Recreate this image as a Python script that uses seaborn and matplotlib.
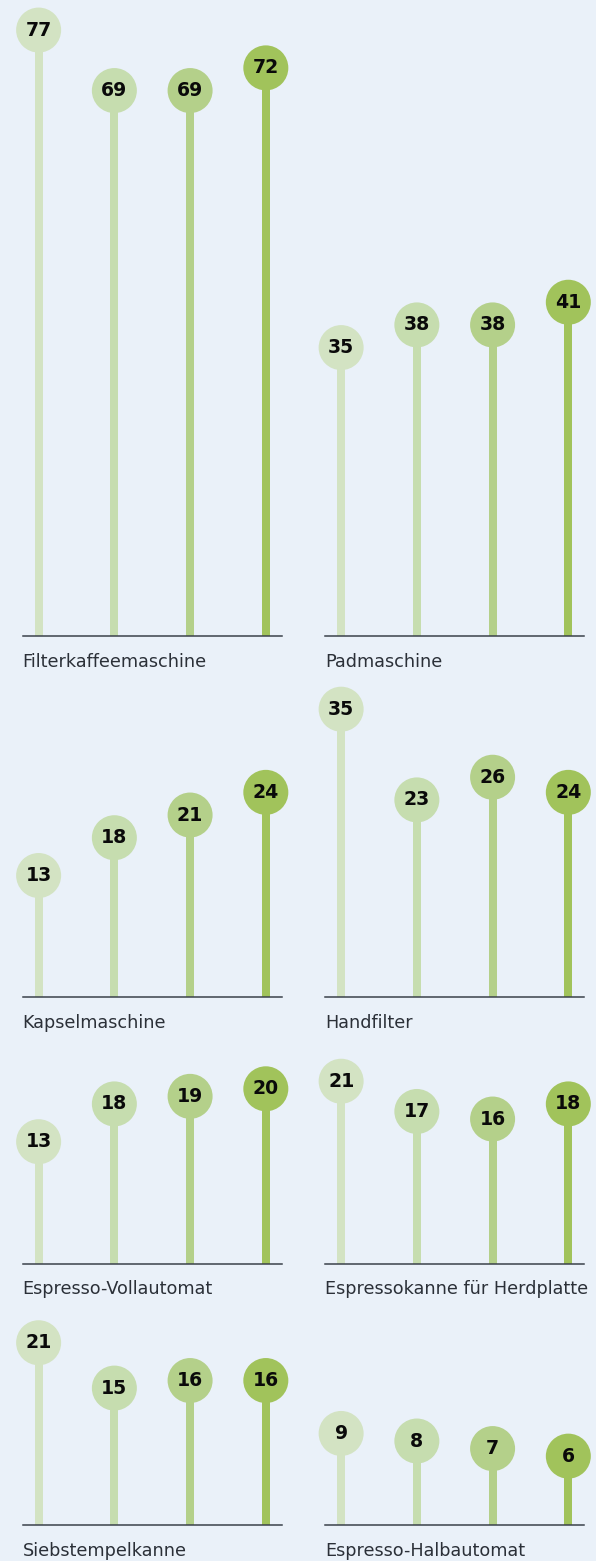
import seaborn as sns
import matplotlib.pyplot as plt
import pandas as pd

# appliance categories, one small panel each
categories = ["Filterkaffeemaschine", "Padmaschine",
              "Kapselmaschine", "Handfilter",
              "Espresso-Vollautomat", "Espressokanne für Herdplatte",
              "Siebstempelkanne", "Espresso-Halbautomat"]

# four waves per panel (oldest -> newest), shares in %
filterkaffee = [77, 69, 69, 72]
padmaschine = [35, 38, 38, 41]
kapsel = [13, 18, 21, 24]
handfilter = [35, 23, 26, 24]
vollautomat = [13, 18, 19, 20]
espressokanne = [21, 17, 16, 18]
siebstempel = [21, 15, 16, 16]
halbautomat = [9, 8, 7, 6]
values = [filterkaffee, padmaschine, kapsel, handfilter,
          vollautomat, espressokanne, siebstempel, halbautomat]
waves = ["w1", "w2", "w3", "w4"]

colors = ["#d3e3c3", "#c6ddaf", "#b4d08a", "#a1c35b"]
bg = "#eaf1f9"

W, H, DPI = 596, 1561, 100
ppu = 7.56                    # pixels per percentage point
radius_px = 23.5              # circle sits on top of the stem
col_x = [22.5, 325]
col_w = 259
row_base = [635.7, 997.3, 1263.5, 1525]
row_top = [0, 680, 1045, 1305]

sns.set_theme(style="white")
plt.rcParams["font.family"] = ["DejaVu Sans"]

fig = plt.figure(figsize=(W / DPI, H / DPI), dpi=DPI, facecolor=bg)
pal = dict(zip(waves, colors))

for i, (cat, vals) in enumerate(zip(categories, values)):
    r, c = divmod(i, 2)
    h_px = row_base[r] - row_top[r]
    ax = fig.add_axes([col_x[c] / W, 1 - row_base[r] / H, col_w / W, h_px / H])
    ax.set_facecolor("none")

    df = pd.DataFrame({"wave": waves, "slot": range(4), "value": vals})
    df["pos"] = df["value"] + radius_px / ppu

    sns.barplot(data=df, x="slot", y="pos", hue="wave", palette=pal,
                native_scale=True, dodge=False, width=0.106, saturation=1,
                linewidth=0, legend=False, ax=ax)
    sns.scatterplot(data=df, x="slot", y="pos", hue="wave", palette=pal,
                    s=1050, linewidth=0, legend=False, ax=ax,
                    clip_on=False, zorder=3)
    for _, row in df.iterrows():
        ax.text(row["slot"], row["pos"], str(row["value"]), ha="center",
                va="center", fontsize=13.6, fontweight="bold", color="#0a0a0a",
                zorder=4, clip_on=False)

    ax.set_xlim(-0.213, 3.207)
    ax.set_ylim(0, h_px / ppu)
    ax.set_xticks([])
    ax.set_yticks([])
    ax.set_xlabel("")
    ax.set_ylabel("")
    sns.despine(ax=ax, left=True)
    ax.spines["bottom"].set_color("#3a414b")
    ax.spines["bottom"].set_linewidth(1.1)
    ax.spines["bottom"].set_zorder(5)

    ax.annotate(cat, xy=(0, 0), xycoords="axes fraction",
                xytext=(0, -31 * 72 / DPI), textcoords="offset points",
                ha="left", va="baseline", fontsize=12.7, color="#2b3038")

fig.savefig("out.png", dpi=DPI, facecolor=bg)
